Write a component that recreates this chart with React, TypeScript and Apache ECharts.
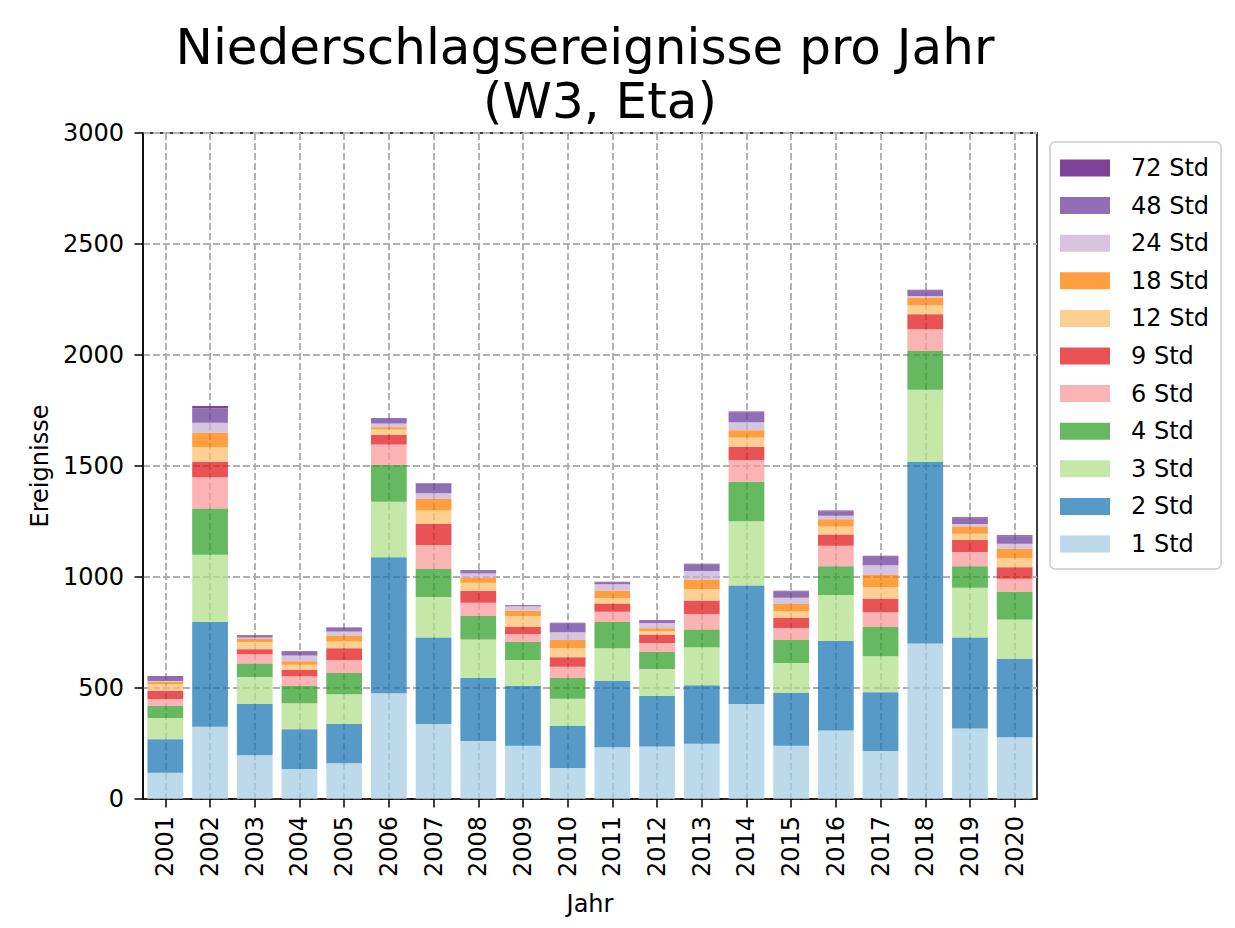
import React, { useEffect, useRef } from "react";
import * as echarts from "echarts";

const years = ["2001","2002","2003","2004","2005","2006","2007","2008","2009","2010","2011","2012","2013","2014","2015","2016","2017","2018","2019","2020"];
const std1 = [118,326,197,135,161,476,338,261,240,140,233,236,249,428,240,309,216,700,318,278];
const std2 = [151,471,231,179,177,613,390,284,269,190,300,228,263,534,239,403,265,819,410,353];
const std3 = [96,303,122,117,134,250,182,174,117,122,146,122,171,289,134,207,162,325,224,178];
const std4 = [54,208,60,78,97,167,126,105,81,94,118,76,81,178,103,129,133,174,96,125];
const std6 = [31,141,42,44,57,91,108,60,36,50,47,41,69,98,54,93,65,98,65,58];
const std9 = [38,70,22,28,53,44,95,54,33,42,37,37,60,60,47,50,61,67,54,52];
const std12 = [29,65,33,24,31,23,60,36,48,42,24,17,53,41,30,36,53,41,28,40];
const std18 = [11,66,14,15,26,10,52,23,24,36,33,12,42,33,31,33,54,34,33,42];
const std24 = [3,45,7,26,18,18,26,20,20,35,29,24,39,36,29,16,44,8,11,24];
const std48 = [20,65,8,18,16,20,43,9,4,40,9,9,30,45,28,20,39,24,25,33];
const std72 = [3,10,3,3,3,3,2,4,2,3,3,3,3,4,3,4,4,4,5,5];

const seriesNames = ["1 Std","2 Std","3 Std","4 Std","6 Std","9 Std","12 Std","18 Std","24 Std","48 Std","72 Std"];
const seriesData = [std1,std2,std3,std4,std6,std9,std12,std18,std24,std48,std72];
const seriesColors = [
  "rgba(166,206,227,0.75)",
  "rgba(31,120,180,0.75)",
  "rgba(178,223,138,0.75)",
  "rgba(51,160,44,0.75)",
  "rgba(251,154,153,0.75)",
  "rgba(227,26,28,0.75)",
  "rgba(253,191,111,0.75)",
  "rgba(255,127,0,0.75)",
  "rgba(202,178,214,0.75)",
  "rgba(106,61,154,0.75)",
  "rgba(118,56,146,0.95)",
];
const yTicks = { min: 0, max: 3000, interval: 500 };
const titleLines = ["Niederschlagsereignisse pro Jahr", "(W3, Eta)"];

const FONT = "DejaVu Sans";

export default function App() {
  const ref = useRef<HTMLDivElement>(null);
  useEffect(() => {
    if (!ref.current) return;
    const chart = echarts.init(ref.current, undefined, { renderer: "svg" });
    const gridLine = { color: "#b0b0b0", width: 1.9, type: [7, 3] as any };
    const titleStyle = {
      font: `50px "${FONT}"`,
      textAlign: "center",
      textVerticalAlign: "middle",
      fill: "#000",
    };
    chart.setOption({
      animation: false,
      backgroundColor: "#ffffff",
      textStyle: { fontFamily: FONT },
      graphic: [
        { type: "text", x: 585, y: 47, style: { ...titleStyle, text: titleLines[0] } },
        { type: "text", x: 600, y: 101, style: { ...titleStyle, text: titleLines[1] } },
      ],
      grid: {
        left: 143,
        right: 198,
        top: 133,
        bottom: 129,
        show: true,
        borderColor: "#000",
        borderWidth: 1.5,
      },
      legend: {
        orient: "vertical",
        left: 1050,
        top: 142,
        padding: [14, 12, 13, 10],
        itemWidth: 50,
        itemHeight: 17,
        itemGap: 13.6,
        icon: "rect",
        selectedMode: false,
        backgroundColor: "#fff",
        borderColor: "#cccccc",
        borderWidth: 1.5,
        borderRadius: 5,
        data: [...seriesNames].reverse(),
        textStyle: { fontFamily: FONT, fontSize: 24, lineHeight: 24, color: "#000", padding: [0, 0, 0, 16] },
      },
      xAxis: {
        type: "category",
        data: years,
        name: "Jahr",
        nameLocation: "middle",
        nameGap: 93,
        nameTextStyle: { fontFamily: FONT, fontSize: 24, color: "#000" },
        axisLine: { show: true, lineStyle: { color: "#000", width: 1.5 } },
        axisTick: { show: true, alignWithLabel: true, length: 8.5, lineStyle: { color: "#000", width: 1.5 } },
        axisLabel: { interval: 0, rotate: 90, margin: 17, fontFamily: FONT, fontSize: 24, color: "#000" },
        splitLine: { show: true, alignWithLabel: true, interval: 0, lineStyle: gridLine } as any,
      },
      yAxis: {
        type: "value",
        min: yTicks.min,
        max: yTicks.max,
        interval: yTicks.interval,
        name: "Ereignisse",
        nameLocation: "middle",
        nameGap: 84,
        nameTextStyle: { fontFamily: FONT, fontSize: 24, color: "#000" },
        axisLine: { show: true, lineStyle: { color: "#000", width: 1.5 } },
        axisTick: { show: true, length: 8.5, lineStyle: { color: "#000", width: 1.5 } },
        axisLabel: { margin: 19, fontFamily: FONT, fontSize: 24, color: "#000", formatter: (v: number) => String(v) },
        splitLine: { show: true, lineStyle: gridLine },
      },
      series: seriesNames.map((name, i) => ({
        name,
        type: "bar",
        stack: "total",
        barCategoryGap: "20%",
        data: seriesData[i],
        itemStyle: { color: seriesColors[i] },
      })),
    });
    return () => chart.dispose();
  }, []);
  return (
    <div
      ref={ref}
      style={{ position: "absolute", left: 0, top: 0, width: 1235, height: 928 }}
    />
  );
}
